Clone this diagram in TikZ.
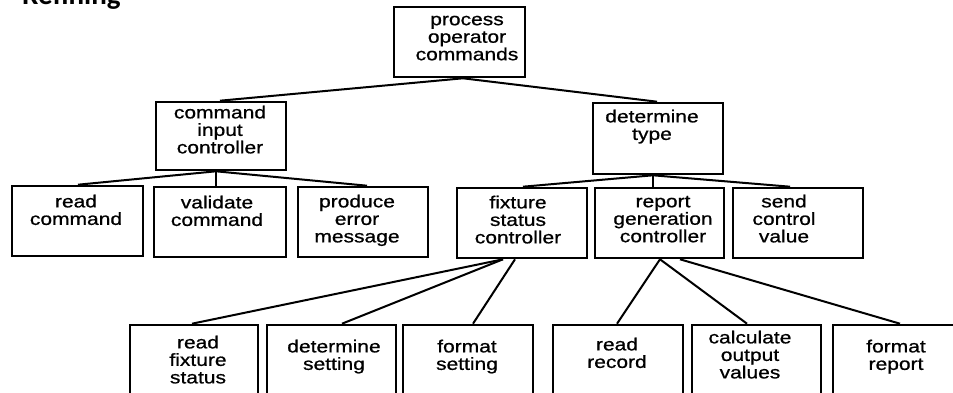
\documentclass[tikz,border=0pt]{standalone}
\usepackage{fontspec}
\newfontfamily\boxfont[FakeStretch=1.2,FakeBold=0.8]{Liberation Sans}
\newfontfamily\titlefont{Carlito}
\begin{document}
\begin{tikzpicture}[x=1pt,y=-1pt,
  box/.style={draw=black, line width=2.6pt, rectangle, inner sep=0pt, fill=none},
  txt/.style={anchor=north, inner sep=0pt, align=center,
    font=\boxfont\fontsize{17.5}{17.5}\selectfont, text=black},
  conn/.style={draw=black, line width=2pt}]
\useasboundingbox (0,0) rectangle (953,393);
\clip (0,0) rectangle (953,393);
\fill[white] (0,0) rectangle (953,393);
\node[anchor=base west, inner sep=0pt, font=\titlefont\bfseries\fontsize{29}{30}\selectfont] (title) at (22,5) {Refining};
\def\sr{\rule{0pt}{12.5pt}}
% level 0
\node[box, minimum width=131, minimum height=70] (pop) at (459.5,42) {};
\node[txt] (popT) at (467,12.5) {\sr process\\operator\\commands};
% level 1
\node[box, minimum width=130, minimum height=68] (cic) at (221,136) {};
\node[txt] (cicT) at (220,105.5) {\sr command\\input\\controller};
\node[box, minimum width=130, minimum height=71] (dt) at (658,138.5) {};
\node[txt] (dtT) at (652,109.5) {\sr determine\\type};
% level 2 left
\node[box, minimum width=131, minimum height=70] (rc) at (77.5,221) {};
\node[txt] (rcT) at (76,194.5) {\sr read\\command};
\node[box, minimum width=132, minimum height=70] (vc) at (220,222) {};
\node[txt] (vcT) at (217,195.5) {\sr validate\\command};
\node[box, minimum width=130, minimum height=70] (pem) at (363,222) {};
\node[txt] (pemT) at (357,194.5) {\sr produce\\error\\message};
% level 2 right
\node[box, minimum width=130, minimum height=70] (fsc) at (522,223) {};
\node[txt] (fscT) at (518,195.5) {\sr fixture\\status\\controller};
\node[box, minimum width=129, minimum height=70] (rgc) at (659.5,223) {};
\node[txt] (rgcT) at (663,194.5) {\sr report\\generation\\controller};
\node[box, minimum width=130, minimum height=70] (scv) at (798,223) {};
\node[txt] (scvT) at (784,194.5) {\sr send\\control\\value};
% level 3
\node[box, minimum width=128, minimum height=85] (rfs) at (194,367.5) {};
\node[txt] (rfsT) at (198,335.5) {\sr read\\fixture\\status};
\node[box, minimum width=129, minimum height=85] (ds) at (331.5,367.5) {};
\node[txt] (dsT) at (334,339.5) {\sr determine\\setting};
\node[box, minimum width=130, minimum height=85] (fs) at (468,367.5) {};
\node[txt] (fsT) at (467,339.5) {\sr format\\setting};
\node[box, minimum width=130, minimum height=85] (rr) at (618,367.5) {};
\node[txt] (rrT) at (617,337.5) {\sr read\\record};
\node[box, minimum width=129, minimum height=85] (cov) at (756.5,367.5) {};
\node[txt] (covT) at (750,330.5) {\sr calculate\\output\\values};
\node[box, minimum width=137, minimum height=85] (fr) at (901.5,367.5) {};
\node[txt] (frT) at (896,339.5) {\sr format\\report};
% connectors
\draw[conn] ([xshift=3.5]pop.south) -- ([xshift=-1]cic.north);
\draw[conn] ([xshift=3.5]pop.south) -- ([xshift=-1]dt.north);
\draw[conn] ([xshift=-5]cic.south) -- ([xshift=0.5]rc.north);
\draw[conn] ([xshift=-5]cic.south) -- ([xshift=-4]vc.north);
\draw[conn] ([xshift=-5]cic.south) -- ([xshift=4]pem.north);
\draw[conn] ([xshift=-5]dt.south) -- ([xshift=1]fsc.north);
\draw[conn] ([xshift=-5]dt.south) -- ([xshift=-6.5]rgc.north);
\draw[conn] ([xshift=-5]dt.south) -- ([xshift=-8]scv.north);
\draw[conn] ([xshift=-19]fsc.south) -- ([xshift=-2]rfs.north);
\draw[conn] ([xshift=-19]fsc.south) -- ([xshift=10.5]ds.north);
\draw[conn] ([xshift=-7]fsc.south) -- ([xshift=5]fs.north);
\draw[conn] ([xshift=0.5]rgc.south) -- ([xshift=-1]rr.north);
\draw[conn] ([xshift=0.5]rgc.south) -- ([xshift=-9.5]cov.north);
\draw[conn] ([xshift=20.5]rgc.south) -- ([xshift=-1.5]fr.north);
\end{tikzpicture}
\end{document}
